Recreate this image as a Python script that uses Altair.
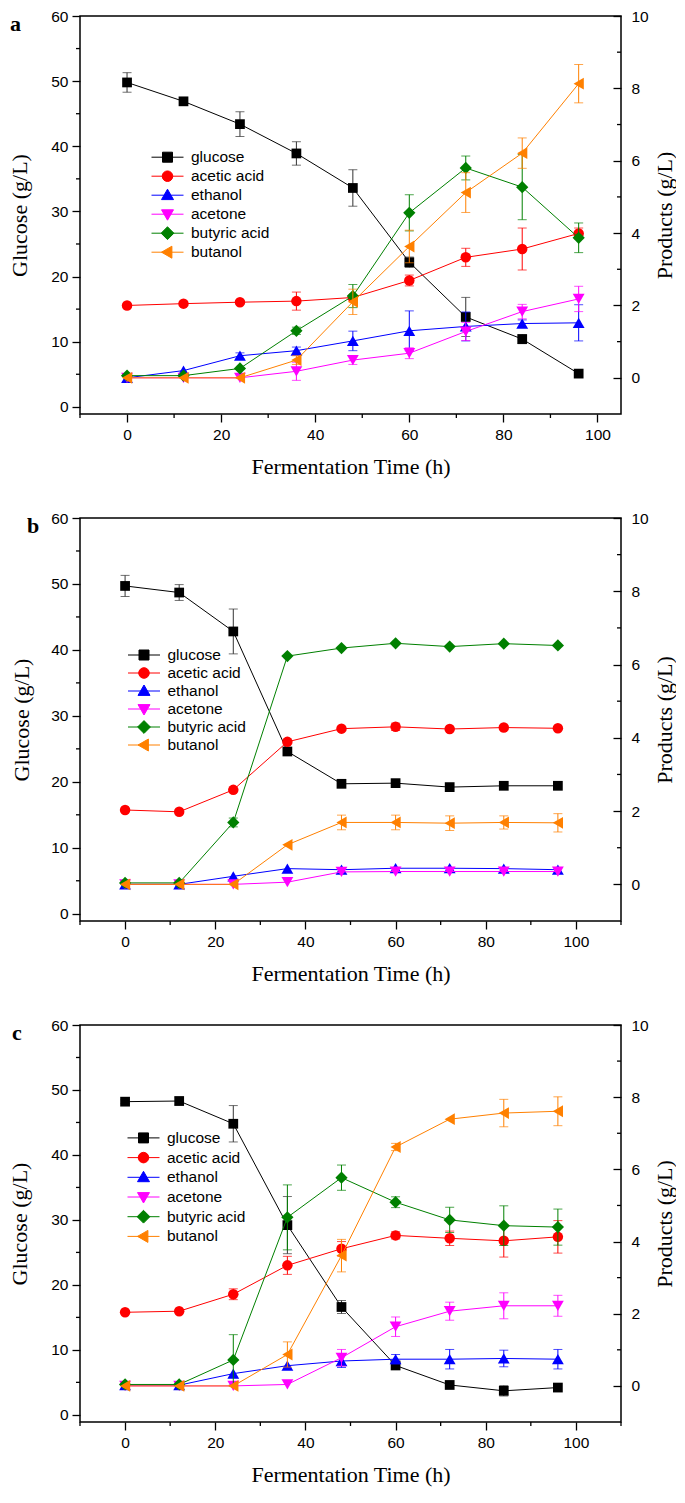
import altair as alt
import pandas as pd

TIME = [0, 12, 24, 36, 48, 60, 72, 84, 96]
SERIES = ["glucose", "acetic acid", "ethanol", "acetone", "butyric acid", "butanol"]
COLORS = ["#000000", "#FF0000", "#0000FF", "#FF00FF", "#008000", "#FF8000"]
ERR_COLORS = ["#333333", "#FF0000", "#0000FF", "#FF00FF", "#008000", "#FF8000"]
SHAPES = ["square", "circle", "triangle-up", "triangle-down", "diamond", "triangle-left"]
SIZES = [95, 110, 140, 140, 150, 140]

X_TICKS = [0, 20, 40, 60, 80, 100]
GLU_TICKS = [0, 10, 20, 30, 40, 50, 60]
PROD_TICKS = [0, 2, 4, 6, 8, 10]
GLU_MINOR = [5, 15, 25, 35, 45, 55]
PROD_MINOR = [1, 3, 5, 7, 9]
X_MINOR_A = [-10, 10, 30, 50, 70, 90]
X_MINOR_BC = [-10, 10, 30, 50, 70, 90, 110]

# ---- panel a ----
A_GLUCOSE = [49.8, 46.9, 43.4, 38.9, 33.6, 22.2, 13.8, 10.4, 5.1]
A_GLUCOSE_ERR = [1.5, 0.3, 1.9, 1.8, 2.8, 0.8, 3.0, 0.7, 0.0]
A_ACETIC = [2.00, 2.05, 2.09, 2.12, 2.22, 2.69, 3.33, 3.56, 3.99]
A_ACETIC_ERR = [0, 0, 0.05, 0.25, 0, 0.15, 0.25, 0.58, 0.15]
A_ETHANOL = [0.0, 0.20, 0.61, 0.75, 1.02, 1.30, 1.42, 1.50, 1.52]
A_ETHANOL_ERR = [0, 0, 0.08, 0.10, 0.27, 0.55, 0.40, 0.10, 0.50]
A_ACETONE = [0.0, 0.0, 0.0, 0.18, 0.49, 0.68, 1.28, 1.83, 2.18]
A_ACETONE_ERR = [0, 0, 0, 0.25, 0.12, 0.15, 0.25, 0.20, 0.35]
A_BUTYRIC = [0.06, 0.06, 0.26, 1.30, 2.26, 4.56, 5.80, 5.27, 3.87]
A_BUTYRIC_ERR = [0, 0, 0, 0.10, 0.32, 0.50, 0.33, 0.90, 0.41]
A_BUTANOL = [0.0, 0.0, 0.0, 0.49, 2.10, 3.63, 5.12, 6.21, 8.13]
A_BUTANOL_ERR = [0, 0, 0, 0.12, 0.35, 0.45, 0.55, 0.42, 0.53]

# ---- panel b ----
B_GLUCOSE = [49.7, 48.7, 42.8, 24.6, 19.7, 19.8, 19.2, 19.4, 19.4]
B_GLUCOSE_ERR = [1.6, 1.2, 3.4, 0, 0, 0, 0, 0, 0]
B_ACETIC = [2.03, 1.98, 2.58, 3.89, 4.25, 4.30, 4.24, 4.28, 4.26]
B_ACETIC_ERR = [0, 0, 0, 0, 0, 0.10, 0, 0, 0]
B_ETHANOL = [0.0, 0.0, 0.22, 0.43, 0.40, 0.44, 0.44, 0.43, 0.40]
B_ETHANOL_ERR = [0, 0, 0, 0, 0, 0, 0, 0, 0]
B_ACETONE = [0.0, 0.0, 0.0, 0.06, 0.34, 0.35, 0.35, 0.35, 0.35]
B_ACETONE_ERR = [0, 0, 0, 0, 0, 0, 0, 0, 0]
B_BUTYRIC = [0.04, 0.04, 1.69, 6.23, 6.45, 6.58, 6.49, 6.57, 6.52]
B_BUTYRIC_ERR = [0, 0, 0.12, 0, 0, 0, 0, 0, 0]
B_BUTANOL = [0.0, 0.0, 0.0, 1.08, 1.69, 1.69, 1.67, 1.69, 1.68]
B_BUTANOL_ERR = [0, 0, 0, 0, 0.20, 0.20, 0.20, 0.18, 0.25]

# ---- panel c ----
C_GLUCOSE = [48.2, 48.3, 44.8, 29.2, 16.6, 7.6, 4.6, 3.7, 4.2]
C_GLUCOSE_ERR = [0.3, 0.6, 2.8, 4.4, 1.0, 0, 0, 0.8, 0]
C_ACETIC = [2.04, 2.07, 2.54, 3.34, 3.80, 4.17, 4.09, 4.02, 4.13]
C_ACETIC_ERR = [0, 0, 0.15, 0.25, 0.20, 0.10, 0.20, 0.45, 0.45]
C_ETHANOL = [0.02, 0.02, 0.34, 0.56, 0.69, 0.74, 0.74, 0.76, 0.74]
C_ETHANOL_ERR = [0, 0, 0, 0, 0.18, 0.13, 0.27, 0.23, 0.27]
C_ACETONE = [0.0, 0.0, 0.0, 0.04, 0.78, 1.64, 2.07, 2.22, 2.22]
C_ACETONE_ERR = [0, 0, 0, 0, 0.23, 0.27, 0.25, 0.36, 0.29]
C_BUTYRIC = [0.04, 0.04, 0.72, 4.67, 5.77, 5.09, 4.60, 4.44, 4.40]
C_BUTYRIC_ERR = [0, 0, 0.70, 0.90, 0.35, 0.15, 0.35, 0.55, 0.50]
C_BUTANOL = [0.0, 0.0, 0.0, 0.87, 3.61, 6.62, 7.39, 7.56, 7.61]
C_BUTANOL_ERR = [0, 0, 0, 0.35, 0.45, 0.10, 0, 0.38, 0.40]

FONT_SANS = "Liberation Sans"
FONT_SERIF = "Liberation Serif"
W = 541

LINE = "M-2,0H2 "
LEGEND_PATHS = [
    LINE + "M-0.625,-0.625H0.625V0.625H-0.625Z",
    LINE + "M-0.66,0A0.66,0.66,0,1,0,0.66,0A0.66,0.66,0,1,0,-0.66,0Z",
    LINE + "M0,-0.75L0.75,0.55L-0.75,0.55Z",
    LINE + "M0,0.75L0.75,-0.55L-0.75,-0.55Z",
    LINE + "M0,-0.8L0.8,0L0,0.8L-0.8,0Z",
    LINE + "M-0.75,0L0.55,-0.75L0.55,0.75Z",
]


def make_df(values, errs):
    return pd.DataFrame({
        "time": TIME,
        "val": values,
        "err": errs,
        "lo": [v - e for v, e in zip(values, errs)],
        "hi": [v + e for v, e in zip(values, errs)],
    })


def series_layers(df, idx, xs, ys, xaxis, yaxis):
    color = COLORS[idx]
    ecolor = ERR_COLORS[idx]
    x = alt.X("time:Q", scale=xs, axis=xaxis)
    line = alt.Chart(df).mark_line(color=color, strokeWidth=1).encode(
        x=x, y=alt.Y("val:Q", scale=ys, axis=yaxis))
    edf = df[df["err"] > 0]
    rule = alt.Chart(edf).mark_rule(color=ecolor, strokeWidth=1).encode(
        x=x, y=alt.Y("lo:Q", scale=ys, axis=yaxis), y2="hi:Q")
    cap_lo = alt.Chart(edf).mark_tick(color=ecolor, orient="horizontal", size=9, thickness=1).encode(
        x=x, y=alt.Y("lo:Q", scale=ys, axis=yaxis))
    cap_hi = alt.Chart(edf).mark_tick(color=ecolor, orient="horizontal", size=9, thickness=1).encode(
        x=x, y=alt.Y("hi:Q", scale=ys, axis=yaxis))
    pts = alt.Chart(df).mark_point(shape=SHAPES[idx], size=SIZES[idx], filled=True,
                                   color=color, opacity=1).encode(
        x=x, y=alt.Y("val:Q", scale=ys, axis=yaxis))
    return [line, rule, cap_lo, cap_hi, pts]


def panel(label, label_x, glu, glu_err, prods, prod_errs, xmax, x_minor, height,
          leg_x, leg_y, leg_pad, left_title_pad):
    xs = alt.Scale(domain=[-10, xmax], nice=False, zero=False)
    yl = alt.Scale(domain=[-1.1, 60], nice=False, zero=False)
    yr = alt.Scale(domain=[-1, 10], nice=False, zero=False)

    xaxis = alt.Axis(values=X_TICKS, title="Fermentation Time (h)", tickSize=8,
                     labelPadding=5, titlePadding=14, labelFlush=False, format="d")
    ylaxis = alt.Axis(values=GLU_TICKS, title="Glucose (g/L)", orient="left", tickSize=8,
                      labelPadding=4, titlePadding=left_title_pad, format="d")
    yraxis = alt.Axis(values=PROD_TICKS, title="Products (g/L)", orient="right", offset=-8,
                      tickSize=8, labelPadding=10, titlePadding=6, titleAngle=270,
                      titleBaseline="top", format="d")

    # left-scale group
    gdf = make_df(glu, glu_err)
    g_layers = series_layers(gdf, 0, xs, yl, xaxis, ylaxis)
    xminor = alt.Chart(pd.DataFrame({"v": x_minor})).mark_rule(color="black", strokeWidth=1.3).encode(
        x=alt.X("v:Q", scale=xs, axis=xaxis), y=alt.value(height), y2=alt.value(height + 4))
    lminor = alt.Chart(pd.DataFrame({"v": GLU_MINOR})).mark_rule(color="black", strokeWidth=1.3).encode(
        y=alt.Y("v:Q", scale=yl, axis=ylaxis), x=alt.value(-4), x2=alt.value(0))
    g_layers += [xminor, lminor]

    leg = alt.Legend(title=None, orient="none", legendX=leg_x, legendY=leg_y,
                     symbolSize=256, symbolStrokeWidth=1, symbolFillColor="black",
                     labelFont=FONT_SANS, labelFontSize=15.5, labelColor="black",
                     labelOffset=15, rowPadding=leg_pad, padding=0, offset=0)
    leg_df = pd.DataFrame({"series": SERIES, "time": [0] * 6, "val": [30] * 6})
    legend_layer = alt.Chart(leg_df).mark_point(filled=True, opacity=0, size=256, strokeWidth=1).encode(
        x=alt.X("time:Q", scale=xs, axis=xaxis),
        y=alt.Y("val:Q", scale=yl, axis=ylaxis),
        fill=alt.Fill("series:N", scale=alt.Scale(domain=SERIES, range=COLORS), legend=leg),
        stroke=alt.Stroke("series:N", scale=alt.Scale(domain=SERIES, range=COLORS), legend=leg),
        shape=alt.Shape("series:N", scale=alt.Scale(domain=SERIES, range=LEGEND_PATHS), legend=leg),
    )
    label_layer = alt.Chart(pd.DataFrame({"t": [label]})).mark_text(
        font=FONT_SERIF, fontSize=22, fontWeight="bold", align="left",
        baseline="alphabetic", color="black").encode(
        text="t:N", x=alt.value(label_x), y=alt.value(15))
    g_layers += [legend_layer, label_layer]
    left_group = alt.layer(*g_layers)

    # right-scale group
    r_layers = []
    for i, (vals, errs) in enumerate(zip(prods, prod_errs)):
        df = make_df(vals, errs)
        r_layers += series_layers(df, i + 1, xs, yr, xaxis, yraxis)
    rminor = alt.Chart(pd.DataFrame({"v": PROD_MINOR})).mark_rule(color="black", strokeWidth=1.3).encode(
        y=alt.Y("v:Q", scale=yr, axis=yraxis), x=alt.value(W - 4), x2=alt.value(W))
    r_layers.append(rminor)
    right_group = alt.layer(*r_layers)

    return alt.layer(left_group, right_group).resolve_scale(y="independent").properties(
        width=W, height=height)


pa = panel("a", -70, A_GLUCOSE, A_GLUCOSE_ERR,
           [A_ACETIC, A_ETHANOL, A_ACETONE, A_BUTYRIC, A_BUTANOL],
           [A_ACETIC_ERR, A_ETHANOL_ERR, A_ACETONE_ERR, A_BUTYRIC_ERR, A_BUTANOL_ERR],
           105, X_MINOR_A, 398, 79, 132.7, 2, 19)
pb = panel("b", -53, B_GLUCOSE, B_GLUCOSE_ERR,
           [B_ACETIC, B_ETHANOL, B_ACETONE, B_BUTYRIC, B_BUTANOL],
           [B_ACETIC_ERR, B_ETHANOL_ERR, B_ACETONE_ERR, B_BUTYRIC_ERR, B_BUTANOL_ERR],
           110, X_MINOR_BC, 403, 55.5, 128.5, 1, 17)
pc = panel("c", -68, C_GLUCOSE, C_GLUCOSE_ERR,
           [C_ACETIC, C_ETHANOL, C_ACETONE, C_BUTYRIC, C_BUTANOL],
           [C_ACETIC_ERR, C_ETHANOL_ERR, C_ACETONE_ERR, C_BUTYRIC_ERR, C_BUTANOL_ERR],
           110, X_MINOR_BC, 397, 55, 104.4, 2.7, 19)

chart = alt.vconcat(pa, pb, pc, spacing=104, bounds="flush").resolve_scale(
    fill="independent", stroke="independent", shape="independent"
).properties(
    padding={"left": 0, "top": 0, "right": 0, "bottom": 0}
).configure_view(
    stroke="black", strokeWidth=1.5
).configure_axis(
    grid=False, domain=False, tickColor="black", tickWidth=1.3,
    labelColor="black", labelFont=FONT_SANS, labelFontSize=15.5,
    titleFont=FONT_SERIF, titleFontSize=22, titleFontWeight="normal", titleColor="black",
    labelOverlap=False
)

chart.save("out.html", embed_options={"renderer": "svg", "actions": False})
